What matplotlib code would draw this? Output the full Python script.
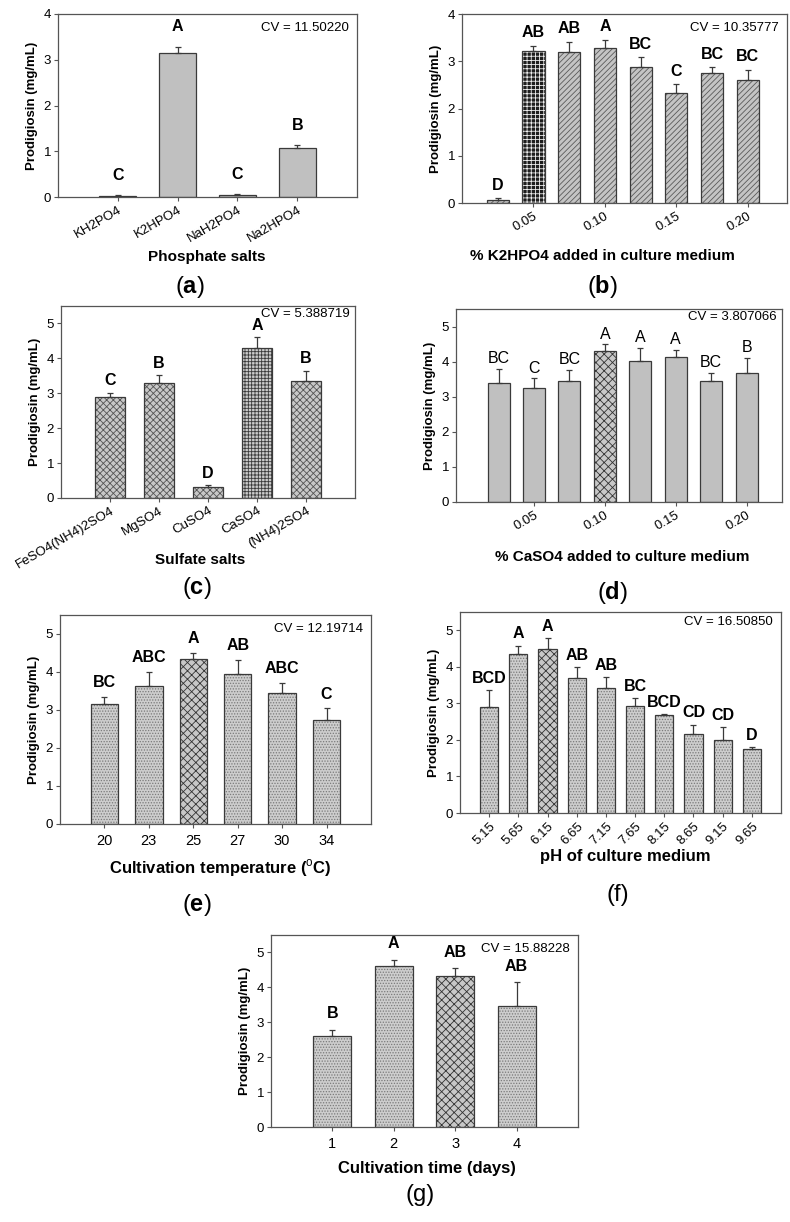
import numpy as np
import matplotlib.pyplot as plt

plt.rcParams['font.family'] = ['Liberation Sans', 'DejaVu Sans']
plt.rcParams['mathtext.fontset'] = 'custom'
plt.rcParams['mathtext.rm'] = 'Liberation Sans'
plt.rcParams['mathtext.bf'] = 'Liberation Sans:bold'
plt.rcParams['hatch.linewidth'] = 0.6

W, H = 790, 1222

# (a) phosphate salts
a_labels = ['KH2PO4', 'K2HPO4', 'NaH2PO4', 'Na2HPO4']
a_mean = [0.02, 3.15, 0.04, 1.07]
a_err = [0.02, 0.13, 0.02, 0.06]
a_group = ['C', 'A', 'C', 'B']
a_cv = 'CV = 11.50220'

# (b) % K2HPO4
b_levels = [0.025, 0.05, 0.075, 0.10, 0.125, 0.15, 0.175, 0.20]
b_mean = [0.07, 3.21, 3.19, 3.29, 2.88, 2.33, 2.76, 2.61]
b_err = [0.03, 0.12, 0.22, 0.17, 0.20, 0.18, 0.11, 0.21]
b_group = ['D', 'AB', 'AB', 'A', 'BC', 'C', 'BC', 'BC']
b_cv = 'CV = 10.35777'

# (c) sulfate salts
c_labels = ['FeSO4(NH4)2SO4', 'MgSO4', 'CuSO4', 'CaSO4', '(NH4)2SO4']
c_mean = [2.88, 3.30, 0.31, 4.31, 3.34]
c_err = [0.14, 0.22, 0.05, 0.29, 0.31]
c_group = ['C', 'B', 'D', 'A', 'B']
c_cv = 'CV = 5.388719'

# (d) % CaSO4
d_levels = [0.025, 0.05, 0.075, 0.10, 0.125, 0.15, 0.175, 0.20]
d_mean = [3.40, 3.26, 3.46, 4.29, 4.03, 4.12, 3.44, 3.68]
d_err = [0.39, 0.26, 0.31, 0.20, 0.36, 0.22, 0.24, 0.43]
d_group = ['BC', 'C', 'BC', 'A', 'A', 'A', 'BC', 'B']
d_cv = 'CV = 3.807066'

# (e) temperature
e_labels = ['20', '23', '25', '27', '30', '34']
e_mean = [3.15, 3.63, 4.33, 3.95, 3.44, 2.75]
e_err = [0.20, 0.37, 0.18, 0.36, 0.26, 0.29]
e_group = ['BC', 'ABC', 'A', 'AB', 'ABC', 'C']
e_cv = 'CV = 12.19714'

# (f) pH
f_labels = ['5.15', '5.65', '6.15', '6.65', '7.15', '7.65', '8.15', '8.65', '9.15', '9.65']
f_mean = [2.90, 4.35, 4.48, 3.69, 3.42, 2.94, 2.69, 2.15, 2.01, 1.76]
f_err = [0.46, 0.23, 0.30, 0.31, 0.30, 0.20, 0.02, 0.27, 0.35, 0.05]
f_group = ['BCD', 'A', 'A', 'AB', 'AB', 'BC', 'BCD', 'CD', 'CD', 'D']
f_cv = 'CV = 16.50850'

# (g) time
g_labels = ['1', '2', '3', '4']
g_mean = [2.62, 4.62, 4.33, 3.47]
g_err = [0.17, 0.17, 0.22, 0.67]
g_group = ['B', 'A', 'AB', 'AB']
g_cv = 'CV = 15.88228'

EDGE = '#3a3a3a'
PLAIN = ('#c0c0c0', None, '#c0c0c0')
DIAG = ('#c4c4c4', '//////', '#5a5a5a')
CHECK_DARK = ('#1e1e1e', '++++', '#f0f0f0')
CHECK = ('#c8c8c8', 'xxxxx', '#555555')
GRID = ('#cccccc', '+++++', '#3a3a3a')
CROSS = ('#c8c8c8', 'xxxx', '#333333')
DOTS = ('#cdcdcd', '......', '#7a7a7a')

TICK_FS = 9.5
XLAB_FS = 11


def px_axes(fig, left, top, right, bottom):
    return fig.add_axes([left / W, 1 - bottom / H, (right - left) / W, (bottom - top) / H])


def ftext(fig, x, y, s, **kw):
    fig.text(x / W, 1 - y / H, s, ha='center', va='center', **kw)


def panel(ax, mean, err, groups, styles, cv, ymax, xlim, gap, bold=True, cv_off=(-6, -6)):
    n = len(mean)
    x = np.arange(1, n + 1)
    for xi, yi, (fc, hatch, hc) in zip(x, mean, styles):
        ax.bar(xi, yi, width=0.62, color=fc, edgecolor=hc, hatch=hatch, linewidth=0, zorder=2)
    ax.bar(x, mean, width=0.62, fill=False, edgecolor=EDGE, linewidth=0.9, zorder=3)
    ax.errorbar(x, mean, yerr=[np.zeros(n), err], fmt='none', ecolor=EDGE,
                elinewidth=0.9, capsize=2.5, capthick=0.9, zorder=4)
    for xi, yi, ei, g in zip(x, mean, err, groups):
        ax.annotate(g, (xi, yi + ei), xytext=(0, gap), textcoords='offset points',
                    ha='center', va='bottom', fontsize=11.5,
                    fontweight='bold' if bold else 'normal')
    ax.annotate(cv, (1, 1), xycoords='axes fraction', xytext=cv_off,
                textcoords='offset points', ha='right', va='top', fontsize=9.5)
    ax.set_ylim(0, ymax)
    ax.set_xlim(*xlim)
    ax.set_yticks(np.arange(0, int(ymax) + 1))
    ax.set_ylabel('Prodigiosin (mg/mL)', fontsize=9.5, fontweight='bold', labelpad=4)
    for s in ax.spines.values():
        s.set_color('#555555')
        s.set_linewidth(0.9)
    ax.tick_params(direction='out', length=3, width=0.8, color='#555555',
                   labelsize=TICK_FS, pad=2)
    return x


fig = plt.figure(figsize=(W / 100, H / 100), dpi=100)

# (a)
ax = px_axes(fig, 58, 14, 357, 197)
x = panel(ax, a_mean, a_err, a_group, [PLAIN] * 4, a_cv, 4, (0, 5), 9)
ax.set_xticks(x)
ax.set_xticklabels(a_labels, rotation=30, ha='right', rotation_mode='anchor')
ftext(fig, 207, 257, 'Phosphate salts', fontsize=XLAB_FS, fontweight='bold')
ftext(fig, 190, 287, r'($\mathbf{a}$)', fontsize=17)

# (b)
ax = px_axes(fig, 462, 14, 787, 203)
styles = [DIAG] * len(b_mean)
styles[1] = CHECK_DARK
x = panel(ax, b_mean, b_err, b_group, styles, b_cv, 4, (0, 9.1), 4)
tk = [xi for xi, lv in zip(x, b_levels) if round(lv * 100) % 5 == 0]
ax.set_xticks(tk)
ax.set_xticklabels(['%.2f' % lv for lv in b_levels if round(lv * 100) % 5 == 0],
                   rotation=30, ha='right', rotation_mode='anchor')
ftext(fig, 602, 256, '% K2HPO4 added in culture medium', fontsize=XLAB_FS, fontweight='bold')
ftext(fig, 602, 287, r'($\mathbf{b}$)', fontsize=17)

# (c)
ax = px_axes(fig, 61, 306, 355, 498)
styles = [CHECK] * len(c_mean)
styles[3] = GRID
x = panel(ax, c_mean, c_err, c_group, styles, c_cv, 5.5, (0, 6), 3, cv_off=(-4, -1.5))
ax.set_xticks(x)
ax.set_xticklabels(c_labels, rotation=30, ha='right', rotation_mode='anchor')
ftext(fig, 200, 560, 'Sulfate salts', fontsize=XLAB_FS, fontweight='bold')
ftext(fig, 197, 588, r'($\mathbf{c}$)', fontsize=17)

# (d)
ax = px_axes(fig, 456, 309, 782, 502)
styles = [PLAIN] * len(d_mean)
styles[3] = CROSS
x = panel(ax, d_mean, d_err, d_group, styles, d_cv, 5.5, (-0.2, 9), 2, bold=False,
          cv_off=(-4, -1.5))
tk = [xi for xi, lv in zip(x, d_levels) if round(lv * 100) % 5 == 0]
ax.set_xticks(tk)
ax.set_xticklabels(['%.2f' % lv for lv in d_levels if round(lv * 100) % 5 == 0],
                   rotation=30, ha='right', rotation_mode='anchor')
ftext(fig, 622, 557, '% CaSO4 added to culture medium', fontsize=XLAB_FS, fontweight='bold')
ftext(fig, 612, 592, r'($\mathbf{d}$)', fontsize=17)

# (e)
ax = px_axes(fig, 60, 615, 371, 824)
styles = [DOTS] * len(e_mean)
styles[2] = CROSS
x = panel(ax, e_mean, e_err, e_group, styles, e_cv, 5.5, (0, 7), 5)
ax.set_xticks(x)
ax.set_xticklabels(e_labels)
ax.tick_params(axis='x', labelsize=10.5, pad=4)
ftext(fig, 220, 868, r'Cultivation temperature ($^{\mathrm{o}}$C)', fontsize=12,
      fontweight='bold')
ftext(fig, 197, 905, r'($\mathbf{e}$)', fontsize=17)

# (f)
ax = px_axes(fig, 460, 612, 781, 813)
styles = [DOTS] * len(f_mean)
styles[2] = CROSS
x = panel(ax, f_mean, f_err, f_group, styles, f_cv, 5.5, (0, 11), 3, cv_off=(-6, -3))
ax.set_xticks(x)
ax.set_xticklabels(f_labels, rotation=45, ha='right', rotation_mode='anchor')
ftext(fig, 625, 857, 'pH of culture medium', fontsize=12, fontweight='bold')
ftext(fig, 618, 895, '(f)', fontsize=17)

# (g)
ax = px_axes(fig, 271, 935, 578, 1127)
styles = [DOTS] * len(g_mean)
styles[2] = CROSS
x = panel(ax, g_mean, g_err, g_group, styles, g_cv, 5.5, (0, 5), 6)
ax.set_xticks(x)
ax.set_xticklabels(g_labels)
ax.tick_params(axis='x', labelsize=10.5, pad=4)
ftext(fig, 427, 1168, 'Cultivation time (days)', fontsize=12, fontweight='bold')
ftext(fig, 420, 1195, '(g)', fontsize=17)

fig.savefig('out.png', dpi=100)
